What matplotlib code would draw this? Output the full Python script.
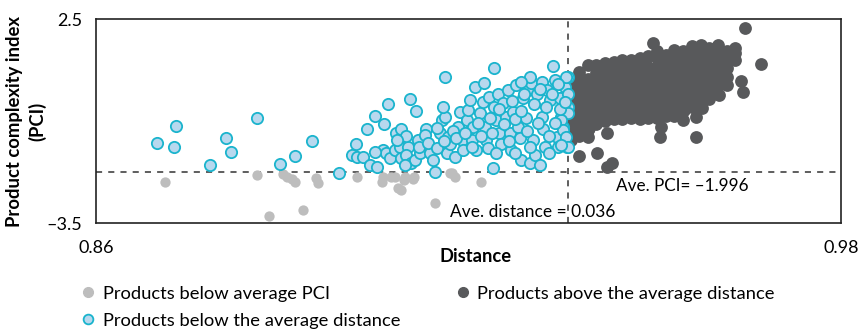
import matplotlib.pyplot as plt
from matplotlib.lines import Line2D

plt.rcParams['font.family'] = ['Lato', 'DejaVu Sans']

# products below average PCI (grey)
grey_x = [0.8711, 0.8859, 0.8901, 0.8908, 0.8915, 0.8920, 0.8954, 0.8957, 0.8879, 0.8934,
          0.9060, 0.9081, 0.9087, 0.9092, 0.9097, 0.9110, 0.9146, 0.9173, 0.9178, 0.9221,
          0.9020, 0.9063, 0.9075, 0.9098, 0.9112, 0.9170]
grey_y = [-2.29, -2.09, -2.06, -2.14, -2.21, -2.29, -2.17, -2.31, -3.29, -3.10,
          -2.29, -2.14, -2.48, -2.53, -2.24, -2.21, -2.91, -2.04, -2.14, -2.30,
          -2.14, -2.14, -2.14, -2.14, -2.14, -2.04]

# products below the average distance (cyan)
cyan_x = [0.8698, 0.8729, 0.8726, 0.8783, 0.8809, 0.8817, 0.8859, 0.8897, 0.8920, 0.8948,
          0.8992, 0.9019, 0.9012, 0.9020, 0.9030, 0.9036, 0.9049, 0.9041, 0.9052, 0.9064,
          0.9070, 0.9063, 0.9068, 0.9073, 0.9081, 0.9084, 0.9092, 0.9089, 0.9092, 0.9103,
          0.9106, 0.9115, 0.9100, 0.9108, 0.9114, 0.9098, 0.9119, 0.9122, 0.9132, 0.9130,
          0.9138, 0.9143, 0.9146, 0.9154, 0.9157, 0.9162, 0.9167, 0.9162, 0.9159, 0.9165,
          0.9170, 0.9178, 0.9186, 0.9183, 0.9189, 0.9191, 0.9197, 0.9199, 0.9202, 0.9207,
          0.9205, 0.9213, 0.9218, 0.9210, 0.9225, 0.9224, 0.9226, 0.9229, 0.9232, 0.9240,
          0.9242, 0.9234, 0.9242, 0.9245, 0.9248, 0.9250, 0.9253, 0.9256, 0.9261, 0.9264,
          0.9267, 0.9269, 0.9272, 0.9277, 0.9280, 0.9283, 0.9285, 0.9288, 0.9293, 0.9296,
          0.9299, 0.9301, 0.9304, 0.9307, 0.9310, 0.9315, 0.9318, 0.9318, 0.9320, 0.9323,
          0.9326, 0.9331, 0.9336, 0.9339, 0.9342, 0.9344, 0.9347, 0.9350, 0.9352, 0.9355,
          0.9359, 0.9360, 0.9360, 0.9358, 0.9360, 0.9352, 0.9360, 0.9350, 0.9352, 0.9358,
          0.9360, 0.9350,
          0.9120, 0.9135, 0.9150, 0.9175, 0.9180, 0.9195, 0.9215, 0.9220, 0.9235, 0.9238,
          0.9250, 0.9258, 0.9265, 0.9270, 0.9275, 0.9285, 0.9290, 0.9295, 0.9300, 0.9305,
          0.9312, 0.9315, 0.9325, 0.9330, 0.9335, 0.9340, 0.9345, 0.9348, 0.9355, 0.9300,
          0.9285, 0.9160, 0.9100, 0.9085, 0.9150, 0.9205, 0.9245, 0.9275, 0.9330, 0.9050]
cyan_y = [-1.13, -0.65, -1.27, -1.80, -1.00, -1.40, -0.40, -1.77, -1.52, -1.08,
          -2.02, -1.17, -1.50, -1.55, -1.57, -0.74, -0.35, -1.79, -1.84, -0.59,
          -0.01, -1.35, -1.45, -1.60, -1.35, -0.84, -0.74, -1.26, -1.60, -1.26,
          0.14, -0.20, -1.50, -1.73, -1.63, -1.79, -1.06, -1.45, -0.72, -0.91,
          -1.45, -1.65, -1.99, -0.86, -0.47, -0.37, -0.96, 0.80, -0.08, -1.45,
          -1.16, -1.55, -0.23, -0.67, -1.06, -1.35, -0.47, -0.18, 0.12, -0.67,
          -1.06, -1.35, -0.27, 0.51, 0.61, 0.07, -0.67, -1.06, -1.30, -1.89,
          1.05, 0.21, -0.08, -0.47, 0.31, -0.86, -1.16, 0.02, -0.37, 0.41,
          -0.86, -1.35, -0.23, 0.56, -0.67, -1.01, -1.65, 0.17, -0.42, 0.41,
          -1.74, 0.61, -1.06, -1.50, 0.31, -1.79, 0.66, -0.37, -0.72, -1.26,
          0.41, 0.12, 1.12, 0.71, -0.96, -1.26, 0.17, -0.37, -0.67, 0.51,
          -1.26, 0.80, -0.08, 0.80, 0.31, -0.08, -0.27, -0.47, -0.76, -0.96,
          -1.26, -1.21,
          -1.25, -1.15, -1.30, -0.80, -1.00, -0.85, -0.55, -0.95, -0.40, -0.85,
          -0.15, -0.60, -1.10, 0.10, -0.45, -0.20, 0.30, -0.80, -1.25, 0.00,
          -0.55, 0.45, -0.10, -0.95, 0.30, -0.55, 0.60, -0.15, 0.05, 0.80,
          0.65, -1.10, -0.95, -1.05, -0.70, -1.25, -1.45, -1.45, -1.45, -1.40]

# products above the average distance (dark grey), column by column
dark_x = ([0.9365] * 8 + [0.9378] * 9 + [0.9392] * 8 + [0.9406] * 8 + [0.9420] * 8
          + [0.9434] * 8 + [0.9448] * 8 + [0.9462] * 8 + [0.9476] * 8 + [0.9490] * 8
          + [0.9504] * 9 + [0.9518] * 8 + [0.9532] * 9 + [0.9546] * 8 + [0.9560] * 8
          + [0.9574] * 8 + [0.9588] * 7 + [0.9602] * 7 + [0.9616] * 5 + [0.9630] * 3
          + [0.9645, 0.9672, 0.9640, 0.9642, 0.9603, 0.9572, 0.9577, 0.9553, 0.9548,
             0.9545, 0.9566, 0.9566, 0.9508, 0.9511, 0.9423, 0.9407, 0.9379, 0.9431,
             0.9423, 0.9395, 0.9392, 0.9497])
dark_y = ([-1.05, -0.80, -0.55, -0.30, -0.05, 0.20, 0.45, 0.70]
          + [-0.95, -0.70, -0.45, -0.20, 0.05, 0.30, 0.55, 0.80, 0.95]
          + [-0.75, -0.50, -0.25, 0.00, 0.25, 0.50, 0.75, 1.15]
          + [-0.60, -0.35, -0.10, 0.15, 0.40, 0.65, 0.90, 1.15]
          + [-0.50, -0.25, 0.00, 0.25, 0.50, 0.75, 1.00, 1.20]
          + [-0.45, -0.20, 0.05, 0.30, 0.55, 0.80, 1.05, 1.25]
          + [-0.45, -0.20, 0.05, 0.30, 0.55, 0.80, 1.05, 1.30]
          + [-0.40, -0.15, 0.10, 0.35, 0.60, 0.85, 1.10, 1.30]
          + [-0.45, -0.20, 0.05, 0.30, 0.55, 0.80, 1.05, 1.35]
          + [-0.40, -0.15, 0.10, 0.35, 0.60, 0.85, 1.10, 1.40]
          + [-0.40, -0.15, 0.10, 0.35, 0.60, 0.85, 1.10, 1.35, 1.55]
          + [-0.35, -0.10, 0.15, 0.40, 0.65, 0.90, 1.15, 1.45]
          + [-0.35, -0.10, 0.15, 0.40, 0.65, 0.90, 1.15, 1.40, 1.60]
          + [-0.20, 0.05, 0.30, 0.55, 0.80, 1.05, 1.30, 1.55]
          + [-0.10, 0.15, 0.40, 0.65, 0.90, 1.15, 1.40, 1.70]
          + [0.00, 0.25, 0.50, 0.75, 1.00, 1.25, 1.50, 1.75]
          + [0.15, 0.40, 0.65, 0.90, 1.15, 1.40, 1.65]
          + [0.30, 0.55, 0.80, 1.05, 1.30, 1.55, 1.75]
          + [0.55, 0.80, 1.05, 1.30, 1.55]
          + [1.30, 1.50, 1.65]
          + [2.24, 1.18, 0.68, 0.35, 0.26, 0.18, -0.12, 0.15, -0.18,
             -0.47, -0.38, -0.97, -0.97, -0.68, -0.85, -1.44, -1.53, -1.74,
             -1.85, -0.71, -0.97, 1.79])

ave_distance = 0.936
ave_pci = -1.996

fig = plt.figure(figsize=(8.65, 3.34), dpi=100)
ax = fig.add_axes([0.111, 0.332, 0.861, 0.611])

ax.scatter(grey_x, grey_y, s=55, color='#bdbdbd', linewidths=0, zorder=2)
ax.scatter(dark_x, dark_y, s=85, color='#58595b', linewidths=0, zorder=2)
ax.scatter(cyan_x, cyan_y, s=66, facecolor='#b8d8ee', edgecolor='#1ab4cd',
           linewidths=1.3, zorder=3)

ax.axvline(ave_distance, color='#333333', ls=(0, (4, 4)), lw=1.1, zorder=1)
ax.axhline(ave_pci, color='#333333', ls=(0, (4, 4)), lw=1.1, zorder=1)

ax.text(0.9438, -2.40, 'Ave. PCI= \u20131.996', fontsize=12.3, ha='left', va='center')
ax.text(0.9437, -3.17, 'Ave. distance = 0.036', fontsize=12.5, ha='right', va='center')

ax.set_xlim(0.86, 0.98)
ax.set_ylim(-3.5, 2.5)
ax.set_xticks([0.86, 0.98])
ax.set_xticklabels(['0.86', '0.98'])
ax.set_yticks([-3.5, 2.5])
ax.set_yticklabels(['\u20133.5', '2.5'])
ax.tick_params(axis='x', length=0, labelsize=13, pad=12)
ax.tick_params(axis='y', length=0, labelsize=13, pad=10)
for sp in ax.spines.values():
    sp.set_color('#222222')
    sp.set_linewidth(1.2)

ax.set_xlabel('Distance', fontsize=13.2, fontweight='bold')
ax.xaxis.set_label_coords(0.509, -0.12)
ax.set_ylabel('Product complexity index\n(PCI)', fontsize=13.3, fontweight='bold',
              linespacing=1.35)
ax.yaxis.set_label_coords(-0.066, 0.5)

handles = [
    Line2D([], [], ls='', marker='o', ms=7, color='#bdbdbd', mec='#bdbdbd'),
    Line2D([], [], ls='', marker='o', ms=7, mfc='#b8d8ee', mec='#1ab4cd', mew=1.3),
    Line2D([], [], ls='', marker='o', ms=7, color='#58595b', mec='#58595b'),
]
labels = ['Products below average PCI', 'Products below the average distance',
          'Products above the average distance']
fig.legend(handles, labels, loc='upper left', bbox_to_anchor=(0.083, 0.172),
           ncol=2, frameon=False, fontsize=13.2, handletextpad=0.4,
           columnspacing=3.0, handlelength=0.8, labelspacing=0.6, borderpad=0)

fig.savefig('out.png', dpi=100)
